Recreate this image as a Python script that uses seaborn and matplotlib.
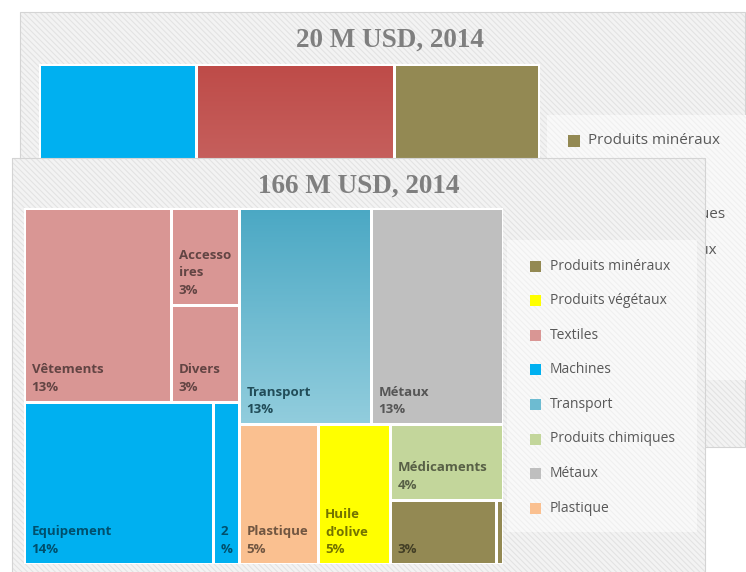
import numpy as np
import matplotlib
matplotlib.use("Agg")
import matplotlib.pyplot as plt
from matplotlib.patches import Rectangle
from matplotlib.colors import to_rgb, LinearSegmentedColormap
import seaborn as sns

# ---------------- data ----------------
# front chart: 166 M USD, 2014 (values = share of total, %)
front_title = "166 M USD, 2014"
leaf_groups = ["Textiles", "Textiles", "Textiles", "Machines", "Machines",
               "Transport", "Métaux", "Plastique", "Produits végétaux",
               "Produits chimiques", "Produits minéraux", "Produits minéraux"]
leaf_values = [13.0, 3.0, 3.0, 14.0, 1.9, 13.0, 13.0, 5.0, 4.6, 3.9, 3.1, 0.2]
leaf_labels = ["Vêtements\n13%", "Accesso\nires\n3%", "Divers\n3%", "Equipement\n14%",
               "2\n%", "Transport\n13%", "Métaux\n13%", "Plastique\n5%",
               "Huile\nd'olive\n5%", "Médicaments\n4%", "3%", ""]
legend_order = ["Produits minéraux", "Produits végétaux", "Textiles", "Machines",
                "Transport", "Produits chimiques", "Métaux", "Plastique"]

# back chart: 20 M USD, 2014 (values in M USD)
back_title = "20 M USD, 2014"
back_groups = ["Machines", "Textiles", "Produits minéraux"]
back_values = [6.3, 7.9, 5.8]
back_legend = ["Produits minéraux", "Machines", "Produits chimiques",
               "Produits végétaux", "Textiles", "Métaux"]

# ---------------- style ----------------
sns.set_style("white")
plt.rcParams["font.family"] = ["Open Sans", "DejaVu Sans"]
plt.rcParams["hatch.linewidth"] = 0.8

group_colors = {
    "Produits minéraux": "#938953",
    "Produits végétaux": "#FFFF00",
    "Textiles": "#D99694",
    "Machines": "#00B0F0",
    "Transport": "#6DBBD1",
    "Produits chimiques": "#C3D69B",
    "Métaux": "#BFBFBF",
    "Plastique": "#FAC090",
}
back_colors = {"Machines": "#00B0F0", "Textiles": "#C0504D", "Produits minéraux": "#938953"}
gradients = {"Transport": ("#4AA8C4", "#92CDDD")}
back_gradients = {"Textiles": ("#BE4B48", "#DC9A98")}

W_PX, H_PX = 746, 572
fig = plt.figure(figsize=(W_PX / 100, H_PX / 100), dpi=100)


def px_axes(x0, y0, x1, y1, z):
    ax = fig.add_axes([x0 / W_PX, 1 - y1 / H_PX, (x1 - x0) / W_PX, (y1 - y0) / H_PX])
    ax.set_zorder(z)
    ax.set_xlim(0, x1 - x0)
    ax.set_ylim(y1 - y0, 0)
    ax.axis("off")
    ax.patch.set_visible(False)
    return ax


def panel(ax, x0, y0, x1, y1, fc, hc, ec=None, z=1):
    ax.add_patch(Rectangle((x0, y0), x1 - x0, y1 - y0, facecolor=fc, edgecolor="none", zorder=z))
    ax.add_patch(Rectangle((x0, y0), x1 - x0, y1 - y0, facecolor="none", edgecolor=hc,
                           linewidth=0, hatch="\\\\\\\\\\\\", zorder=z + 0.1))
    if ec:
        ax.add_patch(Rectangle((x0, y0), x1 - x0, y1 - y0, facecolor="none", edgecolor=ec,
                               linewidth=0.8, zorder=z + 0.2))


def worst(row, side):
    s = sum(row)
    return max(max(side * side * r / (s * s), s * s / (side * side * r)) for r in row)


def squarify(vals, x, y, w, h):
    tot = sum(vals)
    vals = [v * w * h / tot for v in vals]
    rects = []
    while vals:
        short = min(w, h)
        row = [vals[0]]
        i = 1
        while i < len(vals) and worst(row + [vals[i]], short) <= worst(row, short):
            row.append(vals[i])
            i += 1
        s = sum(row)
        if w >= h:
            cw = s / h
            yy = y
            for r in row:
                rects.append((x, yy, cw, r / cw))
                yy += r / cw
            x += cw
            w -= cw
        else:
            rh = s / w
            xx = x
            for r in row:
                rects.append((xx, y, r / rh, rh))
                xx += r / rh
            y += rh
            h -= rh
        vals = vals[i:]
    return rects


def draw_tile(ax, rect, color, grad=None, gap=3.0):
    x, y, w, h = rect
    if grad:
        cmap = LinearSegmentedColormap.from_list("g", [grad[0], grad[1]])
        arr = np.linspace(0, 1, 256).reshape(-1, 1)
        ax.imshow(arr, cmap=cmap, extent=(x, x + w, y + h, y), origin="upper",
                  aspect="auto", zorder=2, interpolation="bilinear")
    else:
        ax.add_patch(Rectangle((x, y), w, h, facecolor=color, edgecolor="none", zorder=2))
    ax.add_patch(Rectangle((x, y), w, h, facecolor="none", edgecolor="white",
                           linewidth=gap * 0.72, zorder=3))


def darken(c, f=0.5):
    r, g, b = to_rgb(c)
    return (r * f, g * f, b * f)


# ---------------- back chart ----------------
axb = px_axes(0, 0, W_PX, H_PX, 0)
panel(axb, 20, 12, 745, 447, "#f3f3f3", "#e3e3e3", ec="#d4d4d4")
panel(axb, 547, 115, 760, 380, "#f9f9f9", "#f0f0f0", z=1.5)
axb.text(390, 40, back_title, ha="center", va="center", fontsize=19.5, fontweight="bold",
         color="#7f7f7f", family=["Liberation Serif", "DejaVu Serif"], zorder=5)
for i, name in enumerate(back_legend):
    yy = 141 + i * 36.5
    axb.add_patch(Rectangle((568, yy - 6), 12, 12, facecolor=group_colors[name],
                            edgecolor="none", zorder=4))
    axb.text(588, yy, name, ha="left", va="center", fontsize=11, color="#595959", zorder=4)

tb = px_axes(38.5, 63.5, 539.5, 438, 1)
bw, bh = 539.5 - 38.5, 438 - 63.5
tot = sum(back_values)
xx = 0.0
for g, v in zip(back_groups, back_values):
    w = v / tot * bw
    draw_tile(tb, (xx, 0, w, bh), back_colors[g], back_gradients.get(g))
    xx += w
tb.set_xlim(0, bw)
tb.set_ylim(bh, 0)

# ---------------- front chart ----------------
axf = px_axes(0, 0, W_PX, H_PX, 2)
panel(axf, 12, 158, 705, 580, "#f3f3f3", "#e3e3e3", ec="#d4d4d4")
panel(axf, 507, 240, 697, 532, "#f9f9f9", "#f0f0f0", z=1.5)
axf.text(359, 186, front_title, ha="center", va="center", fontsize=19.5, fontweight="bold",
         color="#7f7f7f", family=["Liberation Serif", "DejaVu Serif"], zorder=5)
for i, name in enumerate(legend_order):
    yy = 266 + i * 34.6
    axf.add_patch(Rectangle((530, yy - 5.5), 11, 11, facecolor=group_colors[name],
                            edgecolor="none", zorder=4))
    axf.text(550, yy, name, ha="left", va="center", fontsize=10, color="#595959", zorder=4)

X0, Y0, X1, Y1 = 24, 208, 503, 564
tf = px_axes(X0, Y0, X1, Y1, 3)
TW, TH = X1 - X0, Y1 - Y0

# group totals, sorted by size (stable)
groups = []
for g in leaf_groups:
    if g not in groups:
        groups.append(g)
gtot = {g: sum(v for gg, v in zip(leaf_groups, leaf_values) if gg == g) for g in groups}
groups_sorted = sorted(groups, key=lambda g: -gtot[g])
grects = squarify([gtot[g] for g in groups_sorted], 0, 0, TW, TH)

for g, (gx, gy, gw, gh) in zip(groups_sorted, grects):
    idx = [i for i, gg in enumerate(leaf_groups) if gg == g]
    idx = sorted(idx, key=lambda i: -leaf_values[i])
    lrects = squarify([leaf_values[i] for i in idx], gx, gy, gw, gh)
    for i, r in zip(idx, lrects):
        draw_tile(tf, r, group_colors[g], gradients.get(g))
        if leaf_labels[i]:
            base = gradients[g][0] if g in gradients else group_colors[g]
            tf.text(r[0] + 7.5, r[1] + r[3] - 8, leaf_labels[i], ha="left", va="bottom",
                    fontsize=9.5, fontweight="bold", color=darken(base, 0.45),
                    linespacing=1.45, zorder=5)
tf.set_xlim(0, TW)
tf.set_ylim(TH, 0)

fig.savefig("out.png", dpi=100)
